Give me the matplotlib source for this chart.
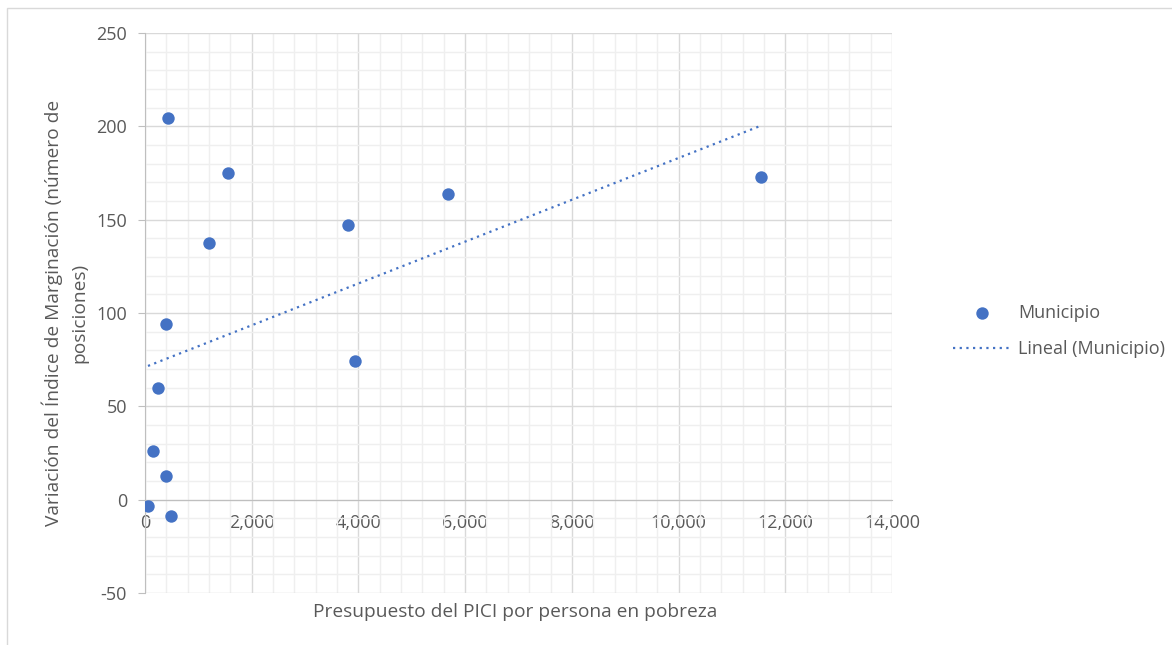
import numpy as np
import matplotlib
matplotlib.use("Agg")
import matplotlib.pyplot as plt
from matplotlib.ticker import MultipleLocator, FuncFormatter
from matplotlib.patches import Rectangle

plt.rcParams.update({"font.family": "Open Sans", "font.size": 13,
                     "axes.unicode_minus": False})
BLUE, TXT = "#4472C4", "#595959"

# presupuesto PICI por persona en pobreza vs variación del índice de marginación
presupuesto = [56, 487, 394, 150, 244, 394, 431, 1199, 1555, 3804, 3935, 5678, 11544]
variacion = [-3.2, -8.6, 12.9, 26.2, 60.0, 94.3, 204.6, 137.7, 175.2, 147.3, 74.5, 163.9, 173.0]

x = np.array(presupuesto, dtype=float)
y = np.array(variacion, dtype=float)
slope, intercept = np.polyfit(x, y, 1)
xt = np.array([x.min(), x.max()])

fig = plt.figure(figsize=(11.72, 6.45), dpi=100)
ax = fig.add_axes([145 / 1172, 1 - 593 / 645, 747 / 1172, 560 / 645])

# light chart border (only top/left fall inside the canvas)
fig.patches.append(Rectangle((7 / 1172, -0.05), 1.2, 1 - 8 / 645 + 0.05,
                             transform=fig.transFigure, fill=False,
                             edgecolor="#D9D9D9", lw=1.0))

ax.scatter(x, y, s=80, color=BLUE, zorder=4, label="Municipio", linewidths=0)
ax.plot(xt, intercept + slope * xt, color=BLUE, lw=1.6, ls=(0, (1, 2)),
        zorder=3, label="Lineal (Municipio)")

ax.set_xlim(0, 14000)
ax.set_ylim(-50, 250)
ax.xaxis.set_major_locator(MultipleLocator(2000))
ax.xaxis.set_minor_locator(MultipleLocator(400))
ax.yaxis.set_major_locator(MultipleLocator(50))
ax.yaxis.set_minor_locator(MultipleLocator(10))
ax.xaxis.set_major_formatter(FuncFormatter(lambda v, _: f"{v:,.0f}"))

ax.grid(which="major", color="#D9D9D9", lw=1.0)
ax.grid(which="minor", color="#EFEFEF", lw=1.0)
ax.set_axisbelow(True)

for s in ["top", "right"]:
    ax.spines[s].set_visible(False)
ax.spines["bottom"].set_position(("data", 0))
ax.spines["left"].set_position(("data", 0))
ax.spines["bottom"].set_color("#BFBFBF")
ax.spines["left"].set_color("#BFBFBF")
ax.tick_params(axis="y", which="major", length=5, color="#BFBFBF", pad=8,
               labelcolor=TXT, labelsize=13)
ax.tick_params(axis="x", which="major", length=0, pad=10,
               labelcolor=TXT, labelsize=13)
ax.tick_params(which="minor", length=0)

fig.text(515 / 1172, 1 - 612 / 645, "Presupuesto del PICI por persona en pobreza",
         ha="center", va="center", color=TXT, fontsize=13.8)
fig.text(65 / 1172, 1 - 313 / 645,
         "Variación del Índice de Marginación (número de\nposiciones)",
         ha="center", va="center", rotation=90, color=TXT, fontsize=13.8,
         linespacing=1.55, multialignment="center")

fig.legend(loc="center left", bbox_to_anchor=(937 / 1172, 1 - 331 / 645),
           frameon=False, fontsize=13, labelcolor=TXT, handlelength=3.2,
           handletextpad=0.4, labelspacing=1.0)

fig.savefig("out.png", dpi=100, facecolor="white")
